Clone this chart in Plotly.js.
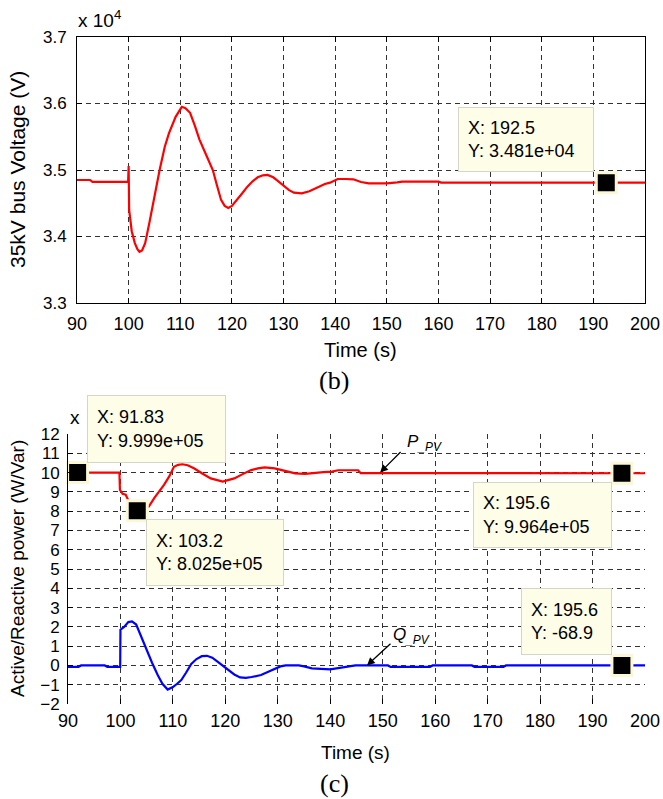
<!DOCTYPE html>
<html>
<head>
<meta charset="utf-8">
<script src="https://cdn.plot.ly/plotly-3.0.1.min.js"></script>
<style>
html,body{margin:0;padding:0;background:#fff;}
#chart{width:663px;height:799px;}
</style>
</head>
<body>
<div id="chart"></div>
<script>
// ---------- DATA ----------
// (b) 35 kV bus voltage, values in units of 10^4 V
const timeV = [90, 92.5, 93, 99.9, 100, 100.1, 100.6, 101.2, 101.7, 102.1,
  102.6, 103.2, 104, 104.6, 105.3, 106, 107, 107.8, 109.1, 110.3,
  111, 111.9, 112.8, 113.7, 115, 116.3, 117.1, 117.9, 118.6, 119.3,
  120, 121, 122, 123, 124, 125, 126, 126.9, 128, 129,
  130, 131, 132, 133.5, 135, 136, 137, 138, 139, 140.5,
  142, 143.5, 145, 146.5, 148, 150, 152, 153, 160, 160.5, 200];
const voltage = [3.485, 3.485, 3.482, 3.482, 3.506, 3.44, 3.408, 3.39, 3.381, 3.377,
  3.379, 3.39, 3.42, 3.445, 3.47, 3.50, 3.535, 3.555, 3.58, 3.595,
  3.593, 3.586, 3.567, 3.546, 3.523, 3.50, 3.477, 3.455, 3.446, 3.443,
  3.446, 3.455, 3.465, 3.475, 3.483, 3.489, 3.492, 3.4925, 3.489, 3.483,
  3.476, 3.47, 3.466, 3.465, 3.468, 3.472, 3.476, 3.479, 3.481, 3.4865,
  3.4865, 3.486, 3.482, 3.480, 3.480, 3.480, 3.4815, 3.4825, 3.4825, 3.481, 3.481];

// (c) active power P_PV, values in units of 10^5 W
const timeP = [90, 99.8, 99.9, 100.4, 101, 101.6, 102.3, 103.2, 104.2, 105.4,
  106.5, 107.5, 108.3, 109.3, 110.2, 111, 111.8, 112.8, 114, 115.6,
  117.2, 119.5, 121.7, 123.3, 124.9, 126.2, 127.5, 129.4, 131.3, 133.3,
  135.2, 137.1, 138.7, 140.3, 141.5, 145.3, 145.8, 200];
const activeP = [10, 10, 9.1, 8.9, 8.85, 8.5, 8.25, 8.025, 8.08, 8.23,
  8.7, 9.05, 9.36, 9.8, 10.3, 10.4, 10.43, 10.38, 10.22, 9.95,
  9.7, 9.53, 9.7, 9.92, 10.13, 10.22, 10.27, 10.22, 10.1, 9.96,
  9.93, 9.96, 10.02, 10.05, 10.12, 10.12, 9.97, 9.965];

// (c) reactive power Q_PV, values in units of 10^5 Var
const timeQ = [90, 92, 92.5, 97, 97.5, 99.95, 100, 100.7, 101.5, 102.2,
  103, 103.6, 104.2, 105, 106, 107.1, 108, 109, 110, 110.8,
  111.6, 112.5, 113.5, 114.5, 115.5, 116.5, 117.5, 118.5, 119.5, 120.6,
  121.7, 122.8, 123.9, 125, 126.8, 128.4, 129.5, 130.5, 131.5, 134,
  135, 136.5, 140, 142.5, 144.8, 151, 151.5, 159, 159.5, 167,
  167.5, 173, 173.5, 200];
const reactiveQ = [-0.07, -0.07, 0.0, 0.0, -0.07, -0.07, 1.85, 2.0, 2.25, 2.28,
  2.12, 1.72, 1.3, 0.75, 0.15, -0.5, -0.95, -1.25, -1.12, -0.95,
  -0.76, -0.38, 0.08, 0.33, 0.48, 0.5, 0.4, 0.2, -0.02, -0.25,
  -0.47, -0.62, -0.65, -0.6, -0.5, -0.3, -0.15, -0.05, 0.0, 0.0,
  -0.05, -0.15, -0.2, -0.1, 0.0, 0.0, -0.08, -0.08, 0.0, 0.0,
  -0.08, -0.08, 0.0, 0.0];

// data tips (real units)
const tipVX = [192.5];           const tipVY = [34810];
const tipPX = [91.83, 103.2, 195.6]; const tipPY = [999900, 802500, 996400];
const tipQX = [195.6];           const tipQY = [-68.9];

// ticks
const timeTicks = [90, 100, 110, 120, 130, 140, 150, 160, 170, 180, 190, 200];
const voltTicks = [3.3, 3.4, 3.5, 3.6, 3.7];
const powerTicks = [-2, -1, 0, 1, 2, 3, 4, 5, 6, 7, 8, 9, 10, 11, 12];

const vScale = 1e4, pScale = 1e5;

// ---------- helpers ----------
function fmtG(v) { // MATLAB %.4g style
  if (v === 0) return '0';
  const e = Math.floor(Math.log10(Math.abs(v)));
  if (e >= 4 || e < -4) {
    let s = v.toExponential(3);
    return s.replace(/e([+-])(\d)$/, 'e$10$2');
  }
  let s = v.toPrecision(4);
  if (s.indexOf('.') >= 0) s = s.replace(/0+$/, '').replace(/\.$/, '');
  return s;
}
const W = 663, H = 799;
const px = x => x / W;
const py = y => 1 - y / H;

const FONT = 'Liberation Sans, Arial, sans-serif';
const SERIF = 'Liberation Serif, Times New Roman, serif';
const GRIDC = '#333333';
const DASH = '5px,4px';

// ---------- traces ----------
const tipMarker = {symbol: 'square', size: 20, color: '#000', line: {color: '#fbf8d8', width: 3}};
const traces = [
  {x: timeV, y: voltage, xaxis: 'x', yaxis: 'y', mode: 'lines', line: {color: '#ff0000', width: 2.2}, hoverinfo: 'skip'},
  {x: timeP, y: activeP, xaxis: 'x2', yaxis: 'y2', mode: 'lines', line: {color: '#ff0000', width: 2.2}, hoverinfo: 'skip'},
  {x: timeQ, y: reactiveQ, xaxis: 'x2', yaxis: 'y2', mode: 'lines', line: {color: '#0000ff', width: 2.2}, hoverinfo: 'skip'},
  {x: tipVX, y: tipVY.map(v => v / vScale), xaxis: 'x', yaxis: 'y', mode: 'markers', marker: tipMarker, cliponaxis: false, hoverinfo: 'skip'},
  {x: tipPX, y: tipPY.map(v => v / pScale), xaxis: 'x2', yaxis: 'y2', mode: 'markers', marker: tipMarker, cliponaxis: false, hoverinfo: 'skip'},
  {x: tipQX, y: tipQY.map(v => v / pScale), xaxis: 'x2', yaxis: 'y2', mode: 'markers', marker: tipMarker, cliponaxis: false, hoverinfo: 'skip'}
];

// ---------- axes ----------
function axisBase(extra) {
  return Object.assign({
    ticks: 'inside', ticklen: 5, tickwidth: 1, tickcolor: '#000',
    showgrid: true, gridcolor: GRIDC, gridwidth: 1, griddash: DASH,
    zeroline: false, fixedrange: true, automargin: false,
    tickfont: {family: FONT, size: 16, color: '#000'}
  }, extra);
}

const layout = {
  width: W, height: H,
  margin: {l: 0, r: 0, t: 0, b: 0, pad: 0},
  paper_bgcolor: '#ffffff', plot_bgcolor: '#ffffff',
  showlegend: false,
  font: {family: FONT, color: '#000'},
  xaxis: axisBase({domain: [px(77), px(645)], range: [90, 200], tickvals: timeTicks, anchor: 'y',
    showline: true, linecolor: '#000', linewidth: 1, mirror: 'ticks', ticklabelstandoff: 4,
    tickfont: {family: FONT, size: 18, color: '#000'}}),
  yaxis: axisBase({domain: [py(303), py(37)], range: [3.3, 3.7], tickvals: voltTicks,
    ticktext: voltTicks.map(v => v.toFixed(1)), anchor: 'x',
    showline: true, linecolor: '#000', linewidth: 1, mirror: 'ticks', ticklabelstandoff: 6,
    tickfont: {family: FONT, size: 17, color: '#000'}}),
  xaxis2: axisBase({domain: [px(68), px(645)], range: [90, 200], tickvals: timeTicks, anchor: 'y2',
    showline: false, ticklabelstandoff: 4,
    tickfont: {family: FONT, size: 18, color: '#000'}}),
  yaxis2: axisBase({domain: [py(704), py(434)], range: [-2, 12], tickvals: powerTicks, anchor: 'x2',
    showline: true, linecolor: '#000', linewidth: 1, ticklabelstandoff: 4,
    tickfont: {family: FONT, size: 17, color: '#000'}}),
  annotations: [],
  shapes: []
};

const ann = layout.annotations;
function txt(text, x, y, opts) {
  ann.push(Object.assign({text: text, xref: 'paper', yref: 'paper', x: px(x), y: py(y),
    showarrow: false, xanchor: 'center', yanchor: 'middle',
    font: {family: FONT, size: 17, color: '#000'}}, opts || {}));
}
// titles
txt('x 10<sup>4</sup>', 76, 19, {xanchor: 'left', font: {family: FONT, size: 19, color: '#000'}});
txt('35kV bus Voltage (V)', 18, 170, {textangle: -90, font: {family: FONT, size: 21, color: '#000'}});
txt('Time (s)', 361, 350, {font: {family: FONT, size: 20, color: '#000'}});
txt('(b)', 334, 380, {font: {family: SERIF, size: 26, color: '#000'}});
txt('x&nbsp;&nbsp;&nbsp;10<sup>5</sup>', 68, 416, {xanchor: 'left', font: {family: FONT, size: 19, color: '#000'}});
txt('Active/Reactive power (W/Var)', 17, 569, {textangle: -90, font: {family: FONT, size: 19, color: '#000'}});
txt('Time (s)', 355, 752, {font: {family: FONT, size: 19, color: '#000'}});
txt('(c)', 334, 783, {font: {family: SERIF, size: 26, color: '#000'}});

// data-tip boxes
function tipBox(xv, yv, left, top, w, h) {
  const pad = 9;
  ann.push({text: 'X: ' + fmtG(xv) + '<br>Y: ' + fmtG(yv),
    xref: 'paper', yref: 'paper', x: px(left), y: py(top), xanchor: 'left', yanchor: 'top',
    showarrow: false, align: 'left', valign: 'middle',
    width: w - 2 * pad - 2, height: h - 2 * pad - 2, borderpad: pad,
    bgcolor: '#fdfde8', bordercolor: '#d6d6c8', borderwidth: 1,
    font: {family: FONT, size: 18, color: '#000'}});
}
tipBox(tipVX[0], tipVY[0], 458, 107, 136, 65);
tipBox(tipPX[0], tipPY[0], 87, 395, 139, 68);
tipBox(tipPX[1], tipPY[1], 146, 519, 138, 67);
tipBox(tipPX[2], tipPY[2], 473, 482, 139, 66);
tipBox(tipQX[0], tipQY[0], 521, 588, 91, 67);

// arrows with labels
ann.push({text: '', xref: 'x2', yref: 'y2', x: 149.5, y: 10.0, ax: 22, ay: -22,
  showarrow: true, arrowhead: 2, arrowsize: 1.2, arrowwidth: 1.3, arrowcolor: '#000'});
txt('<i>P<sub>_PV</sub></i>', 405, 443, {xanchor: 'left', font: {family: FONT, size: 17, color: '#000'}});
ann.push({text: '', xref: 'x2', yref: 'y2', x: 147.0, y: 0.0, ax: 25, ay: -23,
  showarrow: true, arrowhead: 2, arrowsize: 1.2, arrowwidth: 1.3, arrowcolor: '#000'});
txt('<i>Q<sub>_PV</sub></i>', 391, 636, {xanchor: 'left', font: {family: FONT, size: 17, color: '#000'}});

Plotly.newPlot('chart', traces, layout, {displayModeBar: false, staticPlot: true});
</script>
</body>
</html>
